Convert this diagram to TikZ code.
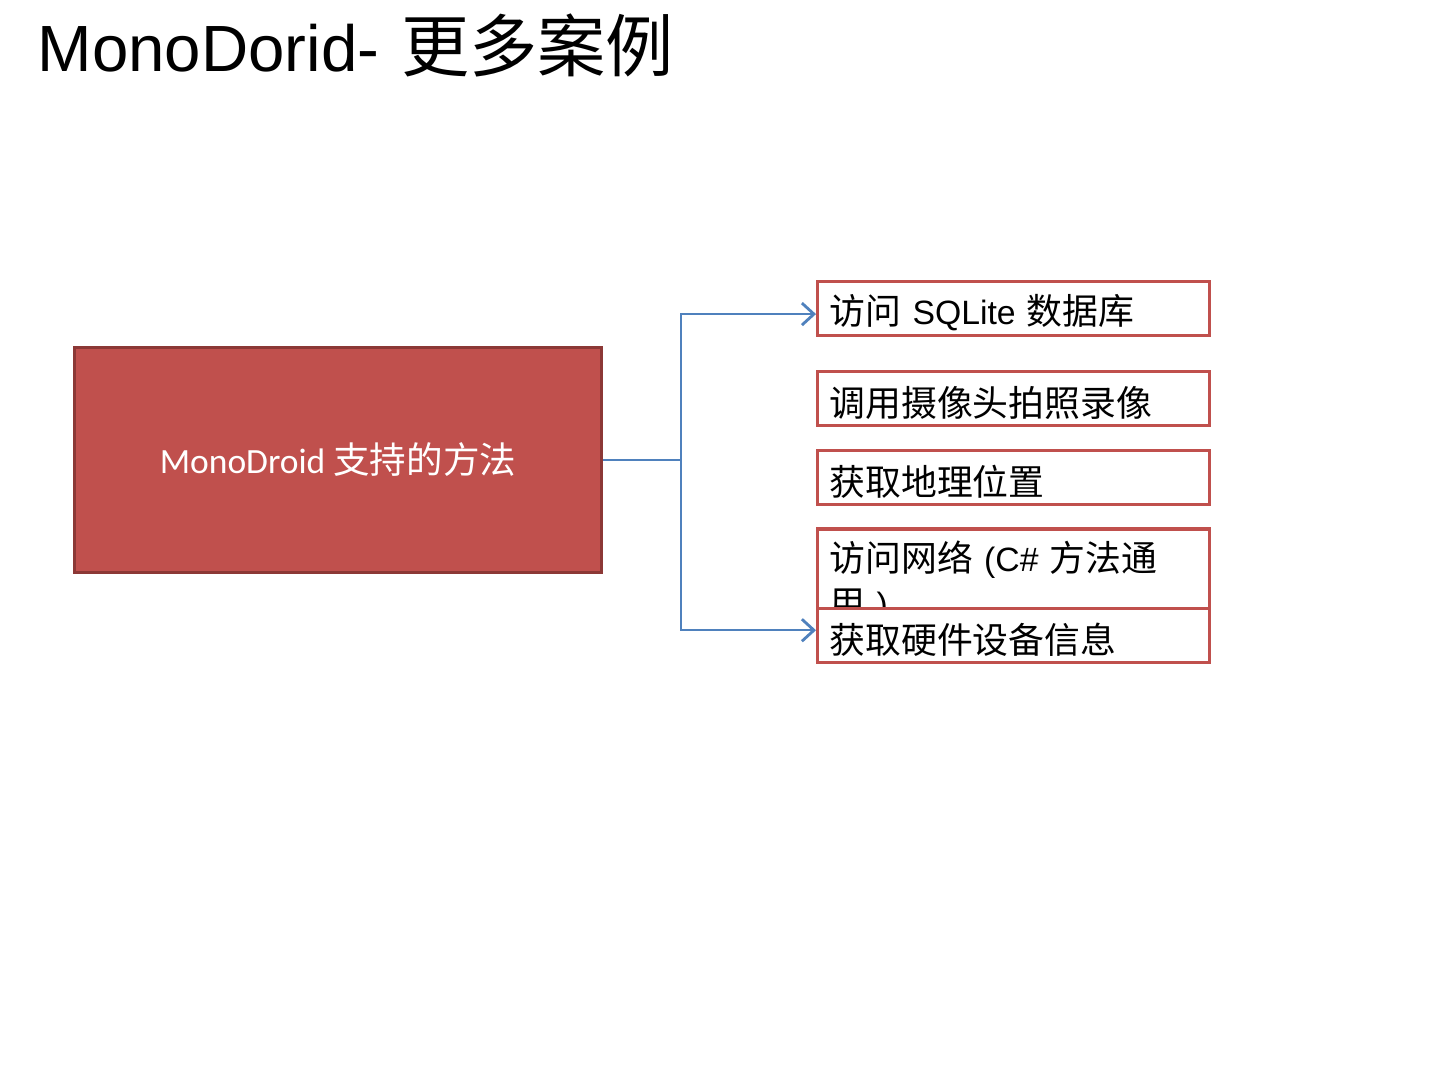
\documentclass[tikz,border=0pt]{standalone}
\usepackage{fontspec}
\setmainfont{Liberation Sans}
\newfontfamily\cjk{Noto Sans CJK SC}
\newfontfamily\calib{Carlito}
\usetikzlibrary{arrows.meta, positioning}
\definecolor{boxred}{HTML}{C0504D}
\definecolor{boxedge}{HTML}{8C3836}
\definecolor{linkblue}{HTML}{4F81BD}
\newcommand{\zh}[1]{{\cjk\fontsize{10.2}{13}\selectfont #1}}
\tikzset{
  source/.style={
    rectangle, draw=boxedge, line width=0.9pt, fill=boxred,
    minimum width=5.27cm, minimum height=2.25cm,
    align=center, text=white, font=\calib\fontsize{10.1}{13}\selectfont
  },
  method/.style={
    rectangle, draw=boxred, line width=0.9pt, fill=white,
    minimum width=3.92cm, minimum height=0.54cm,
    text width=3.68cm, text height=0.39cm, inner xsep=0.12cm, inner ysep=0pt,
    align=left, font=\fontsize{9.6}{13}\selectfont
  },
  link/.style={draw=linkblue, line width=0.45pt},
  tip/.style={-{Straight Barb[length=1.2mm,width=2.2mm,line width=0.8pt]}}
}
\begin{document}
\begin{tikzpicture}[node distance=0.3cm]
  \fill[white] (0,0) rectangle (14.4,-10.8);
  \useasboundingbox (0,0) rectangle (14.4,-10.8);

  \node[anchor=base west, inner sep=0pt] (title) at (0.37,-0.72)
    {\fontsize{18.6}{22}\selectfont MonoDorid-\hspace{0.22cm}{\cjk\fontsize{19.4}{22}\selectfont 更多案例}};

  \node[source] (main) at (3.38,-4.60) {MonoDroid {\cjk\fontsize{10.4}{13}\selectfont 支持的方法}};

  \node[method, anchor=north west] (sqlite) at (8.16,-2.80) {\zh{访问} SQLite \zh{数据库}};
  \node[method, below=0.33cm of sqlite] (camera) {\zh{调用摄像头拍照录像}};
  \node[method, below=0.22cm of camera] (location) {\zh{获取地理位置}};
  \node[method, minimum height=0.98cm, below=0.21cm of location] (network)
    {\zh{访问网络} (C\# \zh{方法通}\\\zh{用} )};
  \node[method, below=-0.22cm of network] (device) {\zh{获取硬件设备信息}};

  \coordinate[right=0.78cm of main] (fork);
  \draw[link] (main) -- (fork);
  \draw[link, tip] (fork) |- ([yshift=-0.055cm]sqlite.west);
  \draw[link, tip] (fork) |- ([yshift=0.05cm]device.west);
\end{tikzpicture}
\end{document}
